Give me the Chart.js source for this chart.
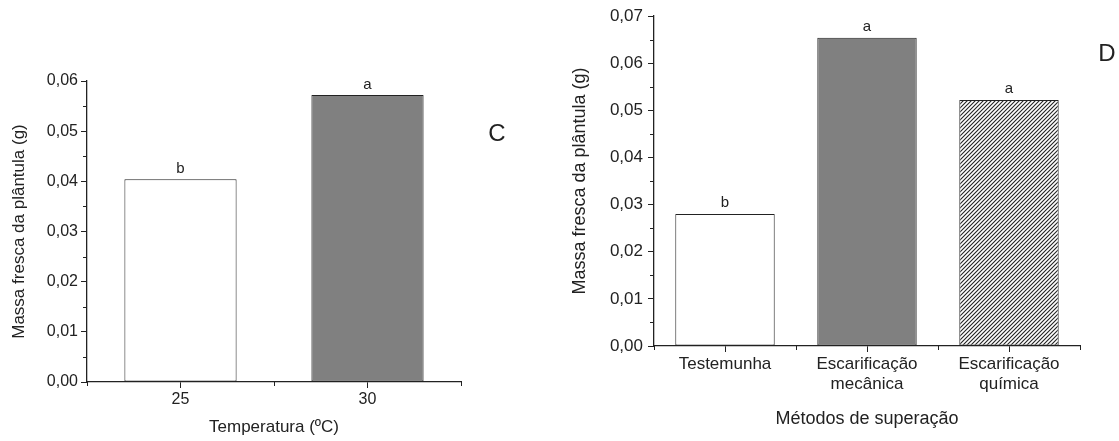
<!DOCTYPE html>
<html>
<head>
<meta charset="utf-8">
<script src="https://cdn.jsdelivr.net/npm/chart.js@4.4.1/dist/chart.umd.min.js"></script>
<style>
  html, body { margin: 0; padding: 0; background: #fff; }
  #wrap { position: relative; width: 1119px; height: 441px; overflow: hidden; }
  #chartC { position: absolute; left: 0; top: 0; }
  #chartD { position: absolute; left: 560px; top: 0; }
</style>
</head>
<body>
<div id="wrap">
  <canvas id="chartC" width="560" height="441"></canvas>
  <canvas id="chartD" width="559" height="441"></canvas>
</div>
<script>
// Data - chart C (temperatura)
const tempLabels = ['25', '30'];
const tempValues = [0.0404, 0.0572];
const tempLetters = ['b', 'a'];
const tempTicks = [0, 0.01, 0.02, 0.03, 0.04, 0.05, 0.06];

// Data - chart D (métodos)
const metodoLabels = [['Testemunha'], ['Escarificação', 'mecânica'], ['Escarificação', 'química']];
const metodoValues = [0.028, 0.0654, 0.0522];
const metodoLetters = ['b', 'a', 'a'];
const metodoTicks = [0, 0.01, 0.02, 0.03, 0.04, 0.05, 0.06, 0.07];

const FONT = '"Liberation Sans", Arial, sans-serif';
const INK = '#222';

Chart.defaults.font.family = FONT;
Chart.defaults.color = INK;

// Hatch pattern for the quimica bar
function makeHatch() {
    const c = document.createElement('canvas');
    c.width = 4;
    c.height = 4;
    const g = c.getContext('2d');
    g.fillStyle = '#fff';
    g.fillRect(0, 0, 4, 4);
    g.strokeStyle = '#222';
    g.lineWidth = 1.1;
    g.beginPath();
    g.moveTo(-1, 5); g.lineTo(5, -1);
    g.moveTo(-1, 1); g.lineTo(1, -1);
    g.moveTo(3, 5); g.lineTo(5, 3);
    g.stroke();
    return g.createPattern(c, 'repeat');
}

function fmt(v) {
    return v.toFixed(2).replace('.', ',');
}

// Minor ticks, letters over bars and the panel letter
const extrasPlugin = {
    id: 'extras',
    afterDraw(chart, args, opts) {
        const ctx = chart.ctx;
        const x = chart.scales.x;
        const y = chart.scales.y;
        const area = chart.chartArea;
        ctx.save();
        ctx.strokeStyle = INK;
        ctx.lineWidth = 1;

        // y minor ticks
        const vals = y.ticks.map(t => t.value);
        for (let i = 0; i < vals.length - 1; i++) {
            const py = Math.round(y.getPixelForValue((vals[i] + vals[i + 1]) / 2)) + 0.5;
            ctx.beginPath();
            ctx.moveTo(area.left - 4, py);
            ctx.lineTo(area.left, py);
            ctx.stroke();
        }
        // x minor ticks at category boundaries
        const n = chart.data.labels.length;
        for (let i = 0; i <= n; i++) {
            const px = Math.round(x.getPixelForValue(i - 0.5)) + 0.5;
            ctx.beginPath();
            ctx.moveTo(px, area.bottom);
            ctx.lineTo(px, area.bottom + 4);
            ctx.stroke();
        }

        // significance letters
        const meta = chart.getDatasetMeta(0);
        ctx.fillStyle = INK;
        ctx.font = opts.letterSize + 'px ' + FONT;
        ctx.textAlign = 'center';
        ctx.textBaseline = 'alphabetic';
        meta.data.forEach((bar, i) => {
            ctx.fillText(opts.letters[i], bar.x, bar.y - opts.letterGap);
        });

        // panel letter
        ctx.font = '24px ' + FONT;
        ctx.textBaseline = 'middle';
        ctx.fillText(opts.panel, opts.panelX, opts.panelY);
        ctx.restore();
    }
};

function buildChart(canvasId, cfg) {
    return new Chart(document.getElementById(canvasId), {
        type: 'bar',
        data: {
            labels: cfg.labels,
            datasets: [{
                data: cfg.values,
                backgroundColor: cfg.colors,
                borderColor: INK,
                borderWidth: 1,
                borderSkipped: false,
                categoryPercentage: 1,
                barPercentage: cfg.barPct
            }]
        },
        options: {
            responsive: false,
            animation: false,
            layout: { padding: cfg.padding },
            plugins: {
                legend: { display: false },
                tooltip: { enabled: false },
                extras: cfg.extras
            },
            scales: {
                x: {
                    type: 'category',
                    offset: true,
                    grid: {
                        offset: false,
                        drawOnChartArea: false,
                        color: INK,
                        tickLength: 6,
                        lineWidth: 1
                    },
                    border: { display: true, color: INK, width: 1.3 },
                    ticks: {
                        color: INK,
                        padding: 2,
                        font: { size: cfg.xTickSize, lineHeight: 1.2 },
                        maxRotation: 0
                    },
                    title: {
                        display: true,
                        text: cfg.xTitle,
                        color: INK,
                        font: { size: cfg.titleSize },
                        padding: { top: 0, bottom: cfg.xTitlePad }
                    },
                    afterFit(scale) { scale.height = cfg.xHeight; }
                },
                y: {
                    min: 0,
                    max: cfg.ticks[cfg.ticks.length - 1],
                    grid: {
                        drawOnChartArea: false,
                        color: INK,
                        tickLength: 6,
                        lineWidth: 1
                    },
                    border: { display: true, color: INK, width: 1.3 },
                    ticks: {
                        color: INK,
                        padding: cfg.yTickPad,
                        font: { size: cfg.yTickSize },
                        callback: v => fmt(v)
                    },
                    afterBuildTicks(scale) {
                        scale.ticks = cfg.ticks.map(v => ({ value: v }));
                    },
                    title: {
                        display: true,
                        text: 'Massa fresca da plântula (g)',
                        color: INK,
                        font: { size: cfg.titleSize },
                        padding: { top: cfg.yTitlePad, bottom: 0 }
                    },
                    afterFit(scale) { scale.width = cfg.yWidth; }
                }
            }
        },
        plugins: [extrasPlugin]
    });
}

const hatch = makeHatch();

buildChart('chartC', {
    labels: tempLabels,
    values: tempValues,
    colors: ['#ffffff', '#808080'],
    barPct: 0.6,
    ticks: tempTicks,
    padding: { left: 0, right: 99, top: 81, bottom: 0 },
    xHeight: 59,
    yWidth: 87,
    xTickSize: 16,
    yTickSize: 16,
    titleSize: 17,
    yTickPad: 3,
    xTitle: 'Temperatura (ºC)',
    xTitlePad: 3,
    yTitlePad: 9,
    extras: { letters: tempLetters, letterSize: 15, letterGap: 6, panel: 'C', panelX: 497, panelY: 134 }
});

buildChart('chartD', {
    labels: metodoLabels,
    values: metodoValues,
    colors: ['#ffffff', '#808080', hatch],
    barPct: 0.7,
    ticks: metodoTicks,
    padding: { left: 0, right: 39, top: 16, bottom: 0 },
    xHeight: 95,
    yWidth: 94,
    xTickSize: 17,
    yTickSize: 17,
    titleSize: 18,
    yTickPad: 5,
    xTitle: 'Métodos de superação',
    xTitlePad: 11,
    yTitlePad: 9,
    extras: { letters: metodoLetters, letterSize: 15, letterGap: 7, panel: 'D', panelX: 547, panelY: 54 }
});
</script>
</body>
</html>
